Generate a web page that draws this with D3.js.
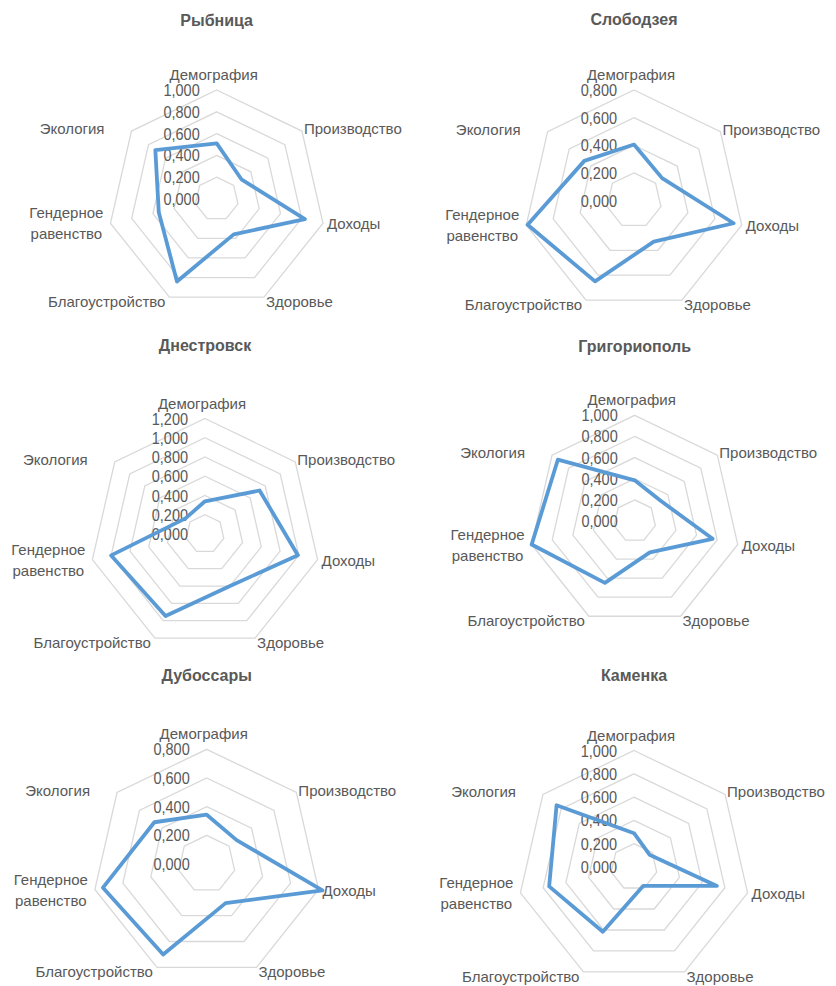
<!DOCTYPE html>
<html>
<head>
<meta charset="utf-8">
<script src="https://cdn.jsdelivr.net/npm/d3@7/dist/d3.min.js"></script>
<style>
  html, body { margin: 0; padding: 0; background: #fff; }
  svg { display: block; }
  text { font-family: "Liberation Sans", Arial, sans-serif; fill: #595959; }
</style>
</head>
<body>
<svg id="chart" width="836" height="986"></svg>
<script>
// ---- data ----
const axes = ["Демография", "Производство", "Доходы", "Здоровье", "Благоустройство", "Гендерное равенство", "Экология"];
const cities = ["Рыбница", "Слободзея", "Днестровск", "Григориополь", "Дубоссары", "Каменка"];
const rybnitsa    = [0.510, 0.290, 0.830, 0.360, 0.840, 0.545, 0.720];
const slobodzeya  = [0.405, 0.260, 0.740, 0.330, 0.650, 0.790, 0.460];
const dnestrovsk  = [0.340, 0.725, 0.990, 0.600, 0.945, 1.000, 0.260];
const grigoriopol = [0.385, 0.310, 0.756, 0.330, 0.650, 1.000, 0.930];
const dubossary   = [0.344, 0.267, 0.828, 0.303, 0.700, 0.742, 0.467];
const kamenka     = [0.290, 0.170, 0.730, 0.180, 0.617, 0.747, 0.850];
const seriesValues = [rybnitsa, slobodzeya, dnestrovsk, grigoriopol, dubossary, kamenka];
const axisMax = [1.0, 0.8, 1.2, 1.0, 0.8, 1.0];
const tickStep = 0.2;

// ---- layout (positions / sizes only) ----
const layout = [
  { cx: 216.7, cy: 199.0, R: 109.0, titleY: 20 },
  { cx: 634.0, cy: 200.5, R: 110.5, titleY: 19.5 },
  { cx: 205.0, cy: 534.0, R: 115.5, titleY: 345 },
  { cx: 634.7, cy: 521.0, R: 105.7, titleY: 346.5 },
  { cx: 206.7, cy: 864.0, R: 114.7, titleY: 675 },
  { cx: 634.0, cy: 867.0, R: 116.5, titleY: 675 }
];

const svg = d3.select("#chart");
const n = axes.length;
const angle = i => i * 2 * Math.PI / n;
const fmt = v => d3.format(".3f")(v).replace(".", ",");

cities.forEach((city, p) => {
  const L = layout[p];
  const max = axisMax[p];
  const r = d3.scaleLinear().domain([0, max]).range([0, L.R]);
  const g = svg.append("g").attr("transform", `translate(${L.cx},${L.cy})`);
  const ticks = d3.range(0, max + 1e-9, tickStep);

  // grid rings
  const ringLine = d3.lineRadial().angle((d, i) => angle(i)).radius(d => r(d)).curve(d3.curveLinearClosed);
  ticks.filter(t => t > 0).forEach(t => {
    g.append("path")
      .attr("d", ringLine(axes.map(() => t)))
      .attr("fill", "none")
      .attr("stroke", "#d9d9d9")
      .attr("stroke-width", 1.3);
  });

  // tick labels
  g.selectAll("text.tick").data(ticks).join("text")
    .attr("class", "tick")
    .attr("transform", d => `translate(-17,${-r(d)}) scale(1,1.15)`)
    .attr("dy", "0.36em")
    .attr("text-anchor", "end")
    .attr("font-size", 14.5)
    .text(d => fmt(d));

  // series
  const line = d3.lineRadial().angle((d, i) => angle(i)).radius(d => r(d)).curve(d3.curveLinearClosed);
  g.append("path")
    .attr("d", line(seriesValues[p]))
    .attr("fill", "none")
    .attr("stroke", "#5b9bd5")
    .attr("stroke-width", 3.8)
    .attr("stroke-linejoin", "round");

  // category labels
  axes.forEach((name, i) => {
    const a = angle(i);
    const vx = Math.sin(a) * r(max);
    const vy = -Math.cos(a) * r(max);
    if (i === 5) {
      const words = name.split(" ");
      const t = g.append("text").attr("font-size", 15).attr("text-anchor", "middle");
      const spans = words.map((w, k) => t.append("tspan").attr("y", vy - 10 + k * 21 + 5).text(w));
      const wmax = d3.max(spans.map(s => s.node().getComputedTextLength()));
      spans.forEach(s => s.attr("x", vx - 7 - wmax / 2));
      return;
    }
    const spec = [
      { dx: -3, dy: -10, anchor: "middle" },
      { dx: 2, dy: 3, anchor: "start" },
      { dx: 4, dy: 6, anchor: "start" },
      { dx: 2, dy: 10, anchor: "start" },
      { dx: -4, dy: 10, anchor: "end" },
      null,
      { dx: -27, dy: 3, anchor: "end" }
    ][i];
    g.append("text")
      .attr("x", vx + spec.dx)
      .attr("y", vy + spec.dy)
      .attr("text-anchor", spec.anchor)
      .attr("font-size", 15)
      .text(name);
  });

  // title
  svg.append("text")
    .attr("x", L.cx)
    .attr("y", L.titleY)
    .attr("dy", "0.36em")
    .attr("text-anchor", "middle")
    .attr("font-size", 16)
    .attr("font-weight", "bold")
    .text(city);
});
</script>
</body>
</html>
